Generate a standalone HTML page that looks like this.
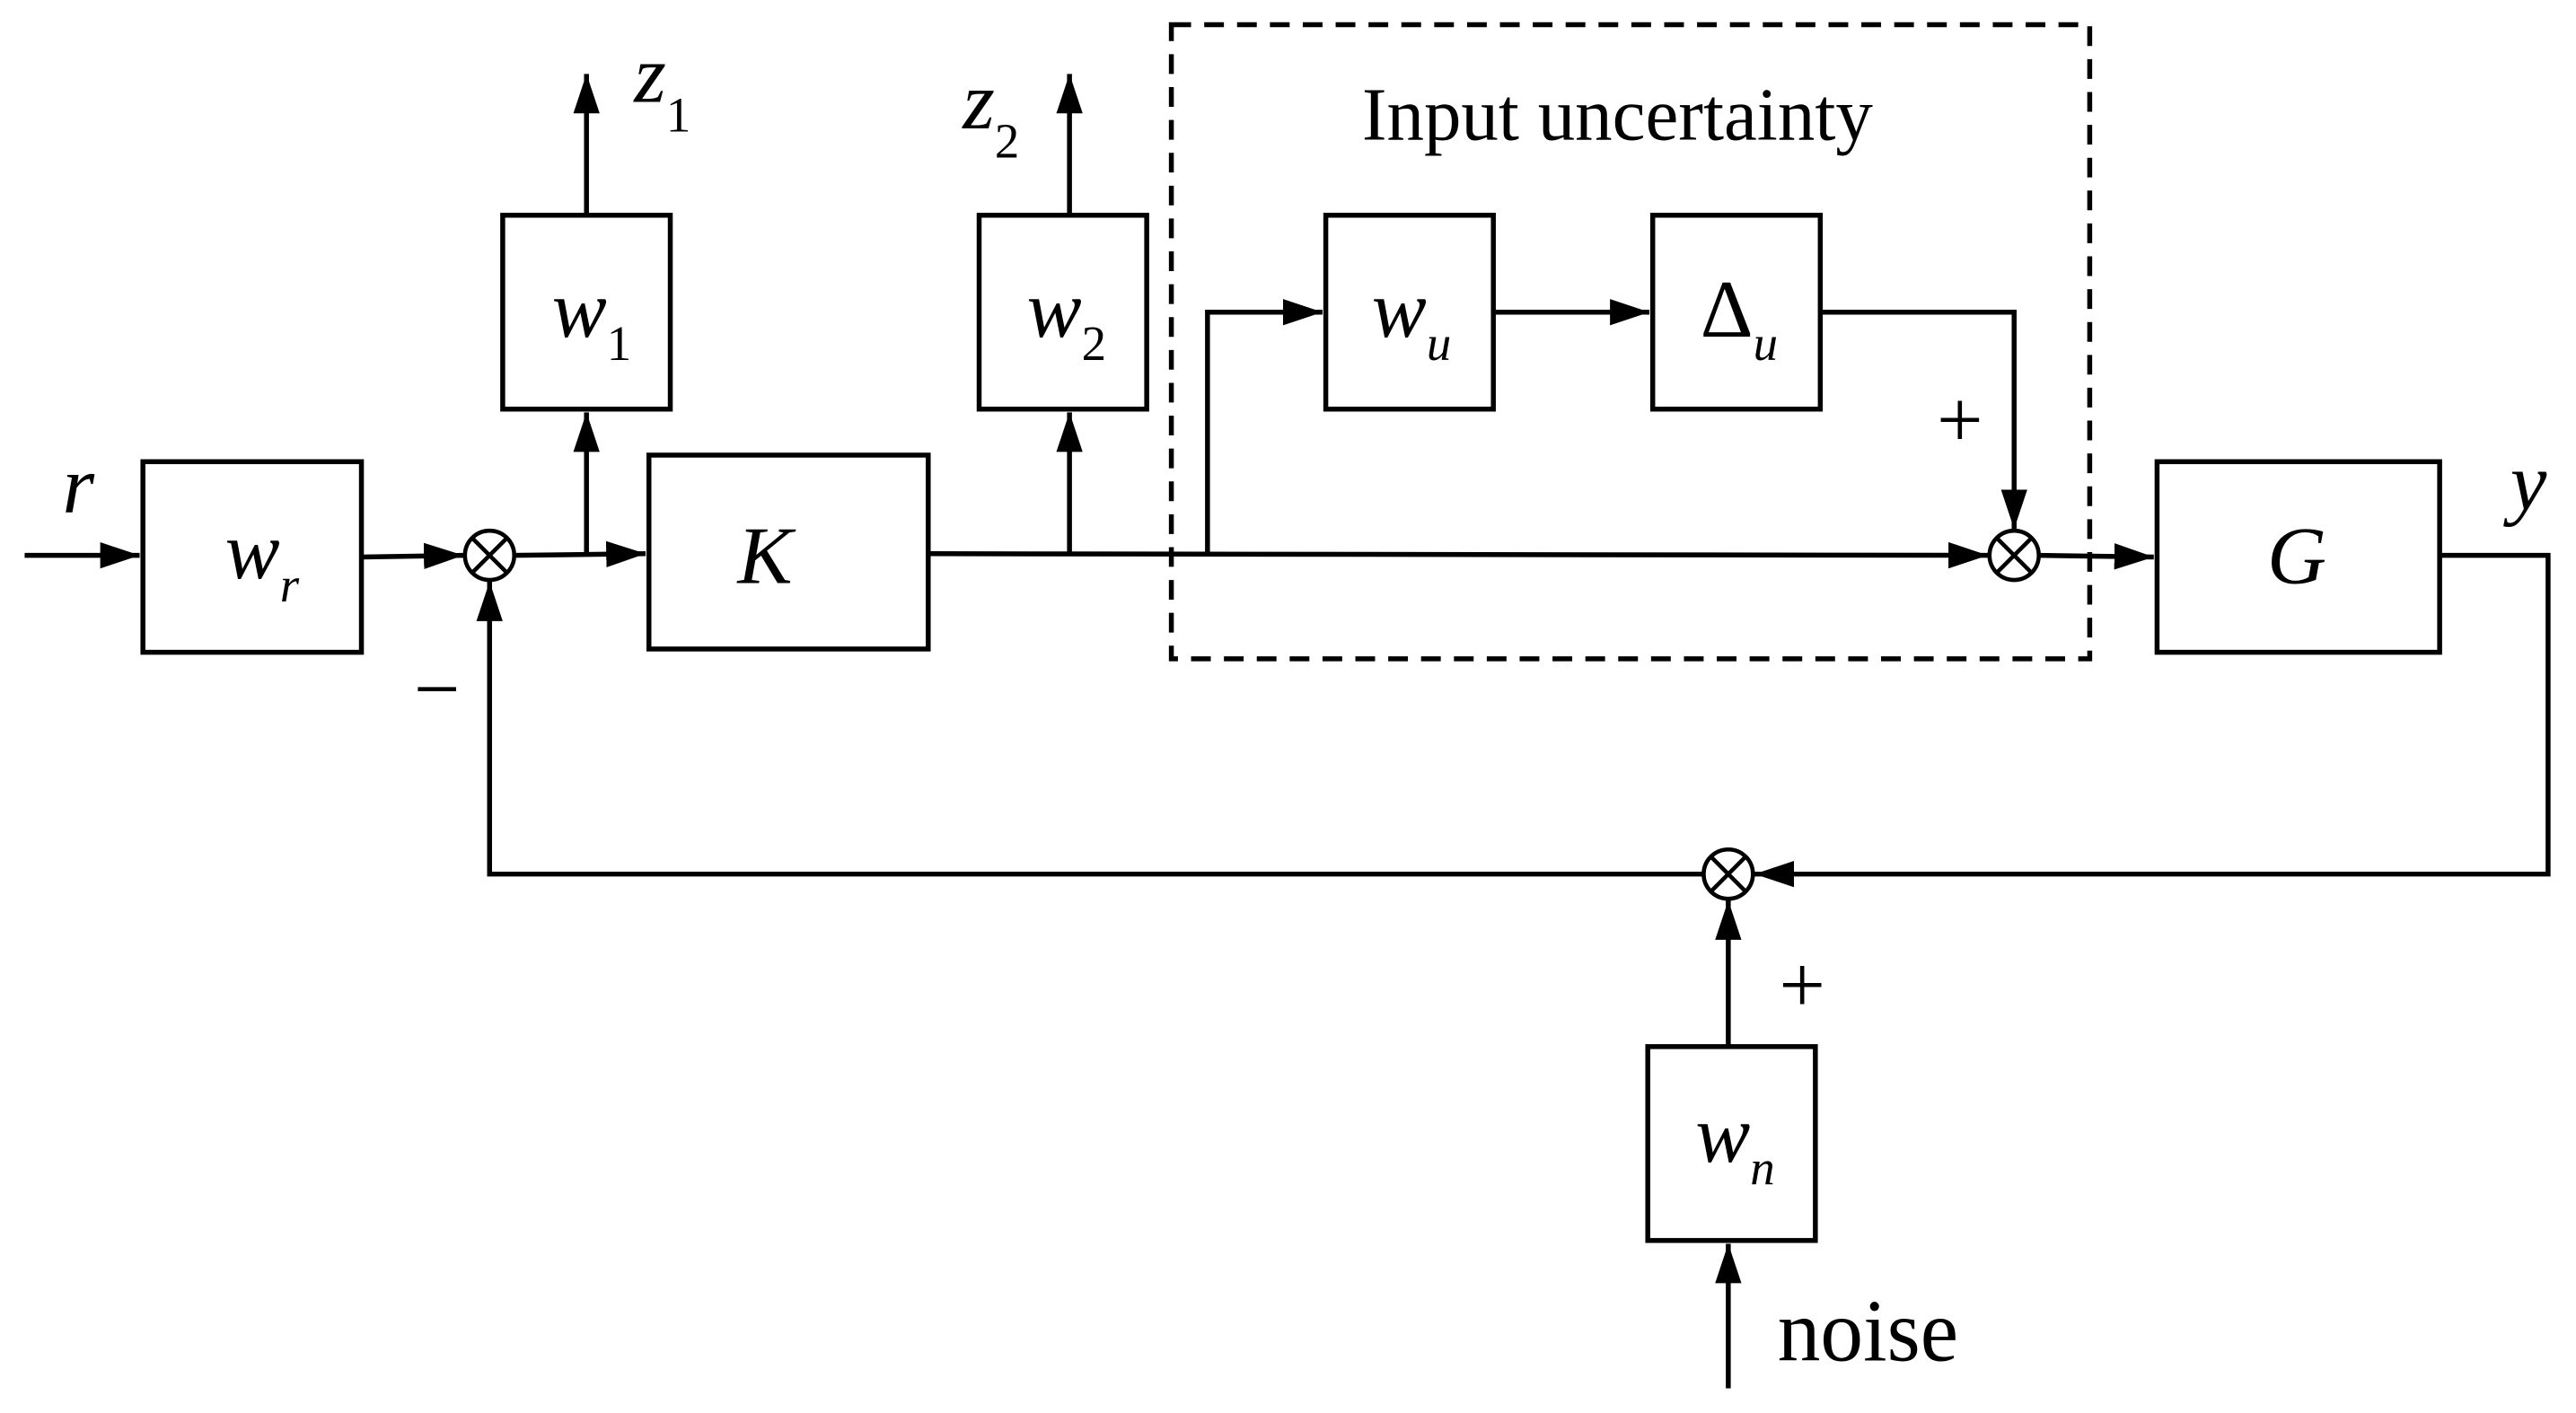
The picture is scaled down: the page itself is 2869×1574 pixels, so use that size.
<!DOCTYPE html>
<html><head><style>html,body{margin:0;padding:0;background:#fff}svg{display:block}</style></head>
<body>
<svg width="2869" height="1574" viewBox="0 0 1568 860" preserveAspectRatio="none" xmlns="http://www.w3.org/2000/svg">
<defs><marker id="a" viewBox="0 0 10 10" refX="10" refY="5" markerWidth="24" markerHeight="16" markerUnits="userSpaceOnUse" orient="auto" preserveAspectRatio="none"><path d="M0,0 L10,5 L0,10 Z" fill="#000"/></marker></defs>
<g fill="none" stroke="#000" stroke-width="3">
<rect x="87" y="281" width="133" height="116"/>
<rect x="395" y="277" width="170" height="118"/>
<rect x="306" y="131" width="102" height="118"/>
<rect x="596" y="131" width="102" height="118"/>
<rect x="807" y="131" width="102" height="118"/>
<rect x="1006" y="131" width="102" height="118"/>
<rect x="1313" y="281" width="172" height="116"/>
<rect x="1003" y="637" width="102" height="118"/>
<rect x="713" y="15" width="559" height="386" stroke-dasharray="12,8"/>
<circle cx="298" cy="338" r="15" stroke-width="2.5"/>
<circle cx="1226" cy="338" r="15" stroke-width="2.5"/>
<circle cx="1052" cy="532" r="15" stroke-width="2.5"/>
<path d="M287.4,327.4 L308.6,348.6 M308.6,327.4 L287.4,348.6 M1215.4,327.4 L1236.6,348.6 M1236.6,327.4 L1215.4,348.6 M1041.4,521.4 L1062.6,542.6 M1062.6,521.4 L1041.4,542.6" stroke-width="2.5"/>
<path d="M15,338 L85,338" marker-end="url(#a)"/>
<path d="M220,339 L282,338" marker-end="url(#a)"/>
<path d="M313,338 L393,337" marker-end="url(#a)"/>
<path d="M357,338 L357,251" marker-end="url(#a)"/>
<path d="M357,131 L357,45" marker-end="url(#a)"/>
<path d="M565,337 L1210,338" marker-end="url(#a)"/>
<path d="M651,338 L651,251" marker-end="url(#a)"/>
<path d="M651,131 L651,45" marker-end="url(#a)"/>
<path d="M735,337 L735,190 L805,190" marker-end="url(#a)"/>
<path d="M909,190 L1004,190" marker-end="url(#a)"/>
<path d="M1108,190 L1226,190 L1226,322" marker-end="url(#a)"/>
<path d="M1241,338 L1311,339" marker-end="url(#a)"/>
<path d="M1485,338 L1551,338 L1551,532 L1068,532" marker-end="url(#a)"/>
<path d="M1037,532 L298,532 L298,354" marker-end="url(#a)"/>
<path d="M1052,637 L1052,548" marker-end="url(#a)"/>
<path d="M1052,845 L1052,757" marker-end="url(#a)"/>
</g>
<g font-family="Liberation Serif, serif" fill="#000">
<text x="829" y="85" font-size="46" textLength="311" lengthAdjust="spacingAndGlyphs">Input uncertainty</text>
<text x="1082" y="828" font-size="54" textLength="110" lengthAdjust="spacingAndGlyphs">noise</text>
<text x="1193" y="272" font-size="50" text-anchor="middle">+</text>
<text x="1097" y="616" font-size="50" text-anchor="middle">+</text>
<text x="266" y="436" font-size="50" text-anchor="middle">−</text>
<g font-style="italic" font-size="50">
<text x="38" y="312">r</text>
<text x="137" y="352">w<tspan font-size="30" dy="14">r</tspan></text>
<text x="336" y="205">w<tspan font-size="30" font-style="normal" dy="14">1</tspan></text>
<text x="625" y="205">w<tspan font-size="30" font-style="normal" dy="14">2</tspan></text>
<text x="835" y="205">w<tspan font-size="30" dy="14">u</tspan></text>
<text x="1035" y="205" font-style="normal">Δ<tspan font-size="30" font-style="italic" dy="14">u</tspan></text>
<text x="1032" y="707">w<tspan font-size="30" dy="14">n</tspan></text>
<text x="449" y="355">K</text>
<text x="1380" y="355">G</text>
<text x="1528" y="310">y</text>
<text x="386" y="62">z<tspan font-size="30" font-style="normal" dy="18">1</tspan></text>
<text x="586" y="78">z<tspan font-size="30" font-style="normal" dy="18">2</tspan></text>
</g>
</g>
</svg>
</body></html>
